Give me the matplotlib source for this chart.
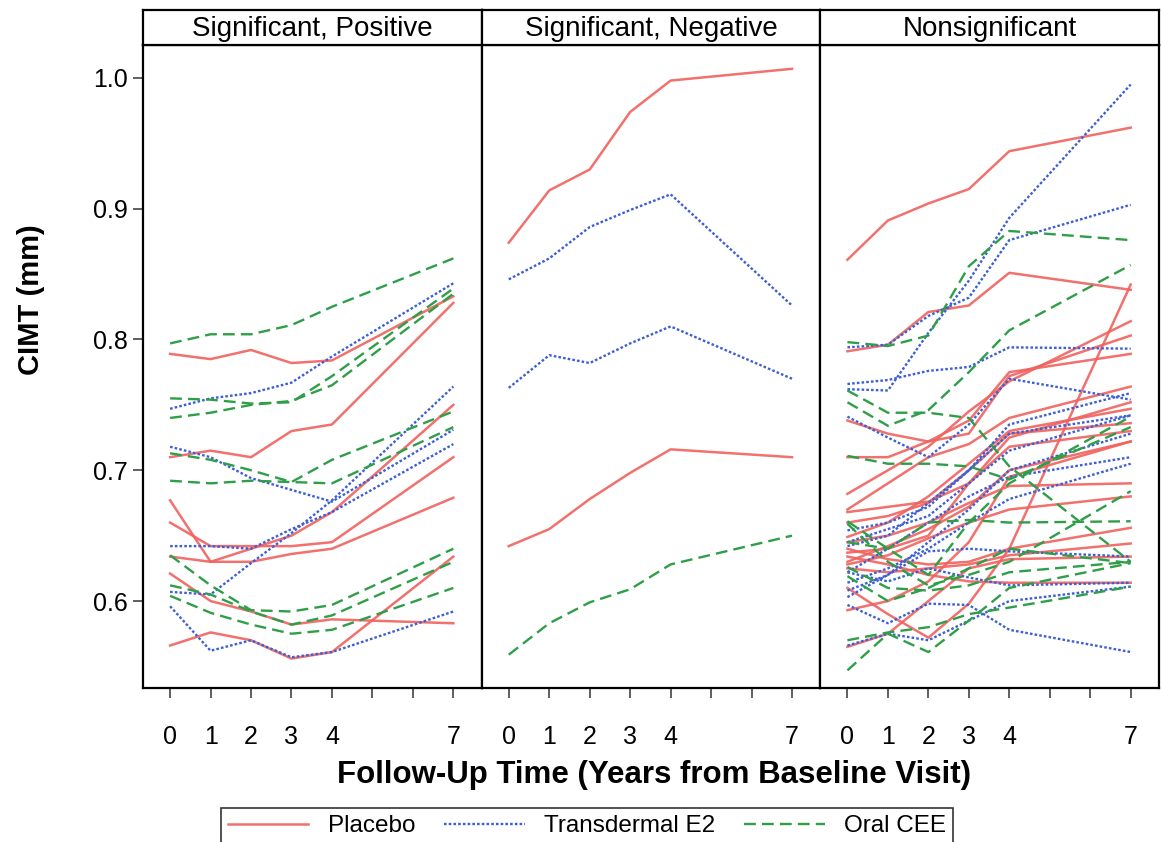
import numpy as np
import matplotlib.pyplot as plt
from matplotlib.lines import Line2D

plt.rcParams['font.family'] = ['Liberation Sans', 'DejaVu Sans']

years = [0, 1, 2, 3, 4, 7]
tick_years = [0, 1, 2, 3, 4, 5, 6, 7]
tick_labels = ['0', '1', '2', '3', '4', '', '', '7']
panel_titles = ['Significant, Positive', 'Significant, Negative', 'Nonsignificant']
groups = ['Placebo', 'Transdermal E2', 'Oral CEE']

# panel 1: significant positive slope
pos_placebo = [
    [0.789, 0.785, 0.792, 0.782, 0.784, 0.833],
    [0.710, 0.715, 0.710, 0.730, 0.735, 0.828],
    [0.677, 0.630, 0.640, 0.650, 0.668, 0.750],
    [0.660, 0.642, 0.642, 0.642, 0.645, 0.710],
    [0.634, 0.630, 0.630, 0.636, 0.640, 0.679],
    [0.621, 0.600, 0.592, 0.582, 0.586, 0.583],
    [0.566, 0.576, 0.570, 0.556, 0.561, 0.634],
]
pos_e2 = [
    [0.747, 0.755, 0.759, 0.767, 0.787, 0.843],
    [0.718, 0.710, 0.694, 0.685, 0.676, 0.731],
    [0.642, 0.642, 0.640, 0.655, 0.668, 0.720],
    [0.607, 0.605, 0.629, 0.652, 0.677, 0.764],
    [0.596, 0.562, 0.570, 0.557, 0.561, 0.592],
]
pos_cee = [
    [0.797, 0.804, 0.804, 0.811, 0.825, 0.862],
    [0.755, 0.754, 0.751, 0.752, 0.772, 0.839],
    [0.740, 0.744, 0.750, 0.753, 0.765, 0.835],
    [0.713, 0.708, 0.700, 0.691, 0.708, 0.745],
    [0.692, 0.690, 0.692, 0.691, 0.690, 0.733],
    [0.635, 0.612, 0.593, 0.592, 0.597, 0.640],
    [0.612, 0.605, 0.592, 0.582, 0.589, 0.630],
    [0.604, 0.591, 0.582, 0.575, 0.578, 0.610],
]

# panel 2: significant negative slope
neg_placebo = [
    [0.874, 0.914, 0.930, 0.974, 0.998, 1.007],
    [0.642, 0.655, 0.678, 0.698, 0.716, 0.710],
]
neg_e2 = [
    [0.846, 0.862, 0.886, 0.899, 0.911, 0.826],
    [0.763, 0.788, 0.782, 0.797, 0.810, 0.770],
]
neg_cee = [
    [0.559, 0.583, 0.599, 0.609, 0.628, 0.650],
]

# panel 3: nonsignificant slope
ns_placebo = [
    [0.861, 0.891, 0.904, 0.915, 0.944, 0.962],
    [0.791, 0.796, 0.821, 0.826, 0.851, 0.838],
    [0.610, 0.590, 0.572, 0.598, 0.640, 0.842],
    [0.738, 0.728, 0.722, 0.728, 0.772, 0.803],
    [0.710, 0.710, 0.722, 0.738, 0.775, 0.789],
    [0.682, 0.700, 0.718, 0.745, 0.768, 0.814],
    [0.670, 0.690, 0.710, 0.720, 0.740, 0.764],
    [0.668, 0.672, 0.676, 0.690, 0.725, 0.752],
    [0.649, 0.660, 0.680, 0.705, 0.730, 0.747],
    [0.660, 0.665, 0.675, 0.700, 0.728, 0.736],
    [0.637, 0.640, 0.650, 0.690, 0.718, 0.730],
    [0.630, 0.642, 0.655, 0.672, 0.700, 0.722],
    [0.645, 0.650, 0.660, 0.675, 0.688, 0.690],
    [0.628, 0.635, 0.648, 0.660, 0.670, 0.680],
    [0.640, 0.632, 0.628, 0.630, 0.640, 0.656],
    [0.625, 0.622, 0.625, 0.628, 0.635, 0.644],
    [0.565, 0.575, 0.600, 0.625, 0.632, 0.634],
    [0.634, 0.628, 0.620, 0.615, 0.614, 0.614],
    [0.593, 0.600, 0.615, 0.645, 0.695, 0.722],
]
ns_e2 = [
    [0.794, 0.796, 0.818, 0.832, 0.876, 0.903],
    [0.762, 0.761, 0.805, 0.845, 0.893, 0.995],
    [0.766, 0.769, 0.776, 0.779, 0.794, 0.793],
    [0.741, 0.725, 0.710, 0.735, 0.770, 0.754],
    [0.654, 0.660, 0.672, 0.700, 0.735, 0.759],
    [0.645, 0.655, 0.665, 0.690, 0.715, 0.742],
    [0.642, 0.650, 0.675, 0.700, 0.728, 0.742],
    [0.622, 0.640, 0.660, 0.680, 0.695, 0.710],
    [0.614, 0.625, 0.640, 0.660, 0.678, 0.705],
    [0.608, 0.620, 0.638, 0.640, 0.638, 0.634],
    [0.622, 0.615, 0.625, 0.618, 0.612, 0.614],
    [0.597, 0.583, 0.598, 0.597, 0.578, 0.561],
    [0.566, 0.575, 0.570, 0.585, 0.600, 0.611],
    [0.603, 0.620, 0.645, 0.670, 0.700, 0.728],
]
ns_cee = [
    [0.798, 0.795, 0.803, 0.856, 0.883, 0.876],
    [0.752, 0.734, 0.746, 0.775, 0.807, 0.857],
    [0.761, 0.744, 0.744, 0.740, 0.703, 0.630],
    [0.711, 0.705, 0.705, 0.703, 0.693, 0.733],
    [0.661, 0.640, 0.620, 0.660, 0.690, 0.741],
    [0.659, 0.630, 0.612, 0.620, 0.630, 0.684],
    [0.645, 0.640, 0.660, 0.662, 0.660, 0.661],
    [0.626, 0.610, 0.608, 0.612, 0.622, 0.630],
    [0.619, 0.600, 0.610, 0.625, 0.640, 0.629],
    [0.570, 0.576, 0.580, 0.590, 0.595, 0.611],
    [0.547, 0.575, 0.561, 0.585, 0.610, 0.629],
]

panels = [
    (pos_placebo, pos_e2, pos_cee),
    (neg_placebo, neg_e2, neg_cee),
    (ns_placebo, ns_e2, ns_cee),
]

styles = {
    'Placebo': dict(color='#f0625e', lw=1.8, ls='-', alpha=0.9),
    'Transdermal E2': dict(color='#3d5fd3', lw=1.7, ls=(0, (1.1, 0.9))),
    'Oral CEE': dict(color='#2f9e48', lw=1.7, ls=(0, (5, 2.6))),
}

W, H = 1161, 842
fig = plt.figure(figsize=(W / 100, H / 100), dpi=100)

left_px = [143, 484, 824]
right_px = 1159
top_px, bot_px, head_top = 45, 688, 10
width_px = (right_px - left_px[0]) / 3

axes = []
for i in range(3):
    x0 = left_px[0] + i * width_px
    ax = fig.add_axes([x0 / W, 1 - bot_px / H, width_px / W, (bot_px - top_px) / H])
    hx = fig.add_axes([x0 / W, 1 - top_px / H, width_px / W, (top_px - head_top) / H])
    hx.set_xticks([])
    hx.set_yticks([])
    for s in hx.spines.values():
        s.set_linewidth(1.6)
    hx.text(0.5, 0.47, panel_titles[i], ha='center', va='center', fontsize=20,
            transform=hx.transAxes)

    for g, data in zip(groups, panels[i]):
        for vals in data:
            ax.plot(years, vals, **styles[g])

    ax.set_xlim(-0.67, 7.7)
    ax.set_ylim(0.5335, 1.0252)
    ax.set_xticks(tick_years)
    ax.set_xticklabels(tick_labels, fontsize=18)
    ax.tick_params(axis='x', length=7, width=1.2, pad=20, color='#444444')
    for s in ax.spines.values():
        s.set_linewidth(1.6)
    if i == 0:
        ax.set_yticks([0.6, 0.7, 0.8, 0.9, 1.0])
        ax.set_yticklabels(['0.6', '0.7', '0.8', '0.9', '1.0'], fontsize=18)
        ax.tick_params(axis='y', length=7, width=1.2, pad=4, color='#444444')
    else:
        ax.set_yticks([])
    axes.append(ax)

fig.text(654 / W, 1 - 775 / H, 'Follow-Up Time (Years from Baseline Visit)',
         ha='center', va='center', fontsize=22.5, fontweight='bold')
fig.text(31 / W, 1 - 300 / H, 'CIMT (mm)', ha='center', va='center',
         rotation=90, fontsize=21, fontweight='bold')

handles = [Line2D([], [], **styles[g]) for g in groups]
leg = fig.legend(handles, groups, loc='upper center', ncol=3,
                 bbox_to_anchor=(587 / W, 1 - 808 / H), borderaxespad=0,
                 fontsize=17.5, frameon=True, fancybox=False, edgecolor='black',
                 handlelength=3.3, handletextpad=0.8, columnspacing=1.2,
                 borderpad=0.3)
leg.get_frame().set_linewidth(1.2)

fig.savefig('out.png', dpi=100)
